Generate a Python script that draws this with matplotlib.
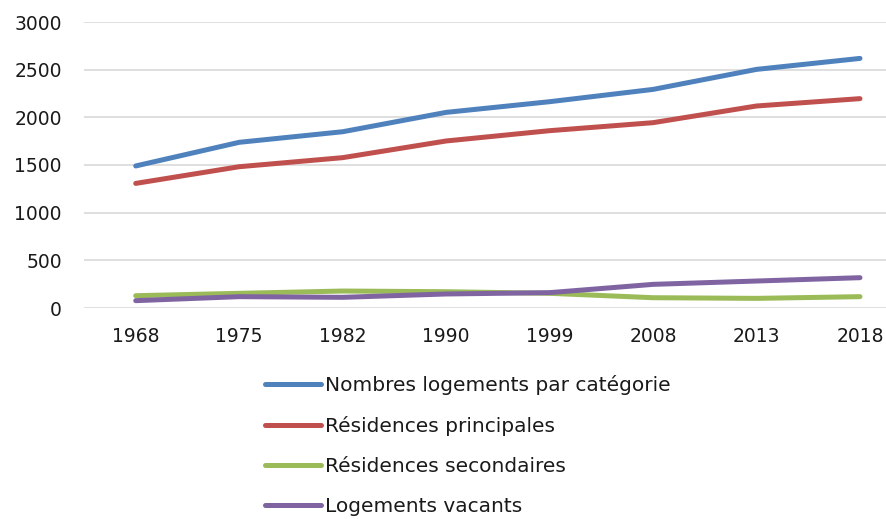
import matplotlib.pyplot as plt
import numpy as np

years = ['1968', '1975', '1982', '1990', '1999', '2008', '2013', '2018']

total = [1490, 1738, 1849, 2052, 2164, 2293, 2503, 2618]
principales = [1307, 1482, 1577, 1752, 1860, 1944, 2119, 2196]
secondaires = [129, 154, 178, 171, 154, 108, 101, 119]
vacants = [77, 119, 112, 147, 161, 248, 283, 318]

labels = ['Nombres logements par catégorie', 'Résidences principales',
          'Résidences secondaires', 'Logements vacants']
colors = ['#4F81BD', '#C0504D', '#9BBB59', '#8064A2']

plt.rcParams['font.family'] = ['DejaVu Sans']

W, H = 887, 519
fig = plt.figure(figsize=(W / 100, H / 100), dpi=100)
# axes placed in pixel coords, right side runs off the picture like the original crop
ax = fig.add_axes([84 / W, 1 - 308 / H, (887 - 84) / W, (308 - 22) / H])

x = np.arange(len(years))
for series, lab, col in zip([total, principales, secondaires, vacants], labels, colors):
    ax.plot(x, series, color=col, lw=3.6, label=lab, solid_capstyle='round', zorder=3)

ax.set_ylim(0, 3000)
ax.set_yticks(range(0, 3001, 500))
ax.set_xlim(-0.5, 7 + 27 / 103.4)
ax.set_xticks(x)
ax.set_xticklabels(years)
ax.grid(axis='y', color='#D9D9D9', lw=1.2)
ax.set_axisbelow(True)
for s in ax.spines.values():
    s.set_visible(False)
ax.tick_params(axis='y', length=0, pad=16, labelsize=13.5, colors='#1a1a1a')
ax.tick_params(axis='x', length=0, pad=14, labelsize=13.5, colors='#1a1a1a')

fig.legend(loc='upper left', bbox_to_anchor=(265 / W, 1 - 375 / H), frameon=False,
           borderpad=0, borderaxespad=0, handlelength=2.8, handletextpad=0.2,
           labelspacing=1.05, fontsize=14.5, labelcolor='#1a1a1a')

fig.savefig('out.png', dpi=100)
